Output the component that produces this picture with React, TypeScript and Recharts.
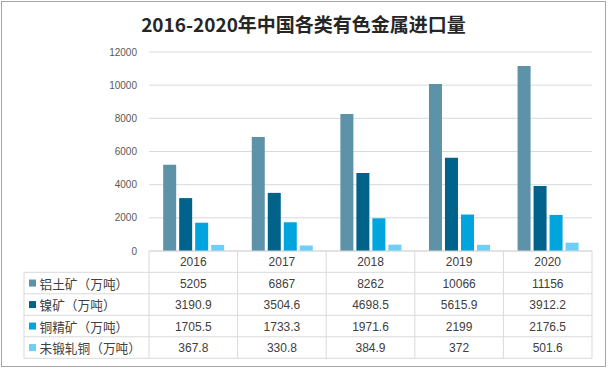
import { BarChart, Bar, XAxis, YAxis, CartesianGrid } from "recharts";

const years = ["2016", "2017", "2018", "2019", "2020"];
const bauxite = [5205, 6867, 8262, 10066, 11156];
const nickelOre = [3190.9, 3504.6, 4698.5, 5615.9, 3912.2];
const copperConc = [1705.5, 1733.3, 1971.6, 2199, 2176.5];
const rawCopper = [367.8, 330.8, 384.9, 372, 501.6];
const seriesNames = ["铝土矿（万吨）", "镍矿（万吨）", "铜精矿（万吨）", "未锻轧铜（万吨）"];
const yTicks = [0, 2000, 4000, 6000, 8000, 10000, 12000];

const COLORS = ["#5E92A8", "#01628A", "#00A5DD", "#6ECFF6"];
const SERIES = [bauxite, nickelOre, copperConc, rawCopper];
const KEYS = ["s0", "s1", "s2", "s3"];

const data = years.map((year, i) => ({
  year,
  s0: bauxite[i],
  s1: nickelOre[i],
  s2: copperConc[i],
  s3: rawCopper[i],
}));

// layout
const W = 610;
const H = 369;
const PLOT_LEFT = 149;
const PLOT_RIGHT = 592;
const PLOT_TOP = 52;
const PLOT_BOTTOM = 251;
const COL_W = (PLOT_RIGHT - PLOT_LEFT) / years.length;
const ROW_H = 21.5;
const HEADER_H = 21.3;
const TABLE_LEFT = 24;
const LINE = "#D9D9D9";
const TEXT = "#404040";
const NUM_FONT = "'Liberation Sans', Arial, sans-serif";
const CJK_FONT = "'Noto Sans CJK SC', sans-serif";

const rowTop = (r: number) => PLOT_BOTTOM + HEADER_H + r * ROW_H;

function TableTick({ x, payload, index }: any) {
  const left = x - COL_W / 2;
  const right = x + COL_W / 2;
  const bottom = rowTop(SERIES.length);
  return (
    <g>
      {index === 0 && (
        <g>
          {SERIES.map((_, r) => (
            <line key={"h" + r} x1={TABLE_LEFT} x2={PLOT_RIGHT} y1={rowTop(r)} y2={rowTop(r)} stroke={LINE} />
          ))}
          <line x1={TABLE_LEFT} x2={PLOT_RIGHT} y1={bottom} y2={bottom} stroke={LINE} />
          <line x1={TABLE_LEFT} x2={TABLE_LEFT} y1={rowTop(0)} y2={bottom} stroke={LINE} />
          <line x1={left} x2={left} y1={PLOT_BOTTOM} y2={bottom} stroke={LINE} />
          {seriesNames.map((name, r) => (
            <g key={"l" + r}>
              <rect x={29} y={rowTop(r) + ROW_H / 2 - 3.5} width={7} height={7} fill={COLORS[r]} />
              <text
                x={39.5}
                y={rowTop(r) + ROW_H / 2}
                dominantBaseline="central"
                fontSize={12.7}
                fontFamily={CJK_FONT}
                fill={TEXT}
              >
                {name}
              </text>
            </g>
          ))}
        </g>
      )}
      <line x1={right} x2={right} y1={PLOT_BOTTOM} y2={bottom} stroke={LINE} />
      <text
        x={x}
        y={PLOT_BOTTOM + HEADER_H / 2 + 0.5}
        textAnchor="middle"
        dominantBaseline="central"
        fontSize={12}
        fontFamily={NUM_FONT}
        fill={TEXT}
      >
        {payload.value}
      </text>
      {SERIES.map((vals, r) => (
        <text
          key={"v" + r}
          x={x}
          y={rowTop(r) + ROW_H / 2 + 0.5}
          textAnchor="middle"
          dominantBaseline="central"
          fontSize={12}
          fontFamily={NUM_FONT}
          fill={TEXT}
        >
          {String(vals[index])}
        </text>
      ))}
    </g>
  );
}

export default function App() {
  return (
    <div style={{ position: "absolute", left: 0, top: 0, width: W, height: H, background: "#fff" }}>
      <div
        style={{
          position: "absolute",
          left: 1,
          top: 1,
          width: 605,
          height: 366,
          border: "1px solid #A6A6A6",
          boxSizing: "border-box",
        }}
      />
      <div
        style={{
          position: "absolute",
          left: 0,
          top: 13,
          width: 607,
          textAlign: "center",
          fontFamily: CJK_FONT,
          fontWeight: "bold",
          fontSize: 19,
          lineHeight: "21px",
          color: "#262626",
        }}
      >
        2016-2020年中国各类有色金属进口量
      </div>
      <div style={{ position: "absolute", left: 0, top: 0 }}>
        <BarChart
          width={W}
          height={H}
          data={data}
          margin={{ top: PLOT_TOP, right: W - PLOT_RIGHT, bottom: 0, left: 0 }}
          barCategoryGap="16%"
          barGap={3}
        >
          <CartesianGrid vertical={false} stroke={LINE} />
          <XAxis
            dataKey="year"
            height={H - PLOT_BOTTOM}
            axisLine={{ stroke: LINE }}
            tickLine={false}
            interval={0}
            tick={<TableTick />}
          />
          <YAxis
            width={PLOT_LEFT}
            domain={[0, 12000]}
            ticks={yTicks}
            axisLine={false}
            tickLine={false}
            tickSize={0}
            tickMargin={12}
            tick={{ fill: "#595959", fontSize: 10, fontFamily: NUM_FONT }}
          />
          {KEYS.map((k, i) => (
            <Bar key={k} dataKey={k} name={seriesNames[i]} fill={COLORS[i]} isAnimationActive={false} />
          ))}
        </BarChart>
      </div>
    </div>
  );
}
